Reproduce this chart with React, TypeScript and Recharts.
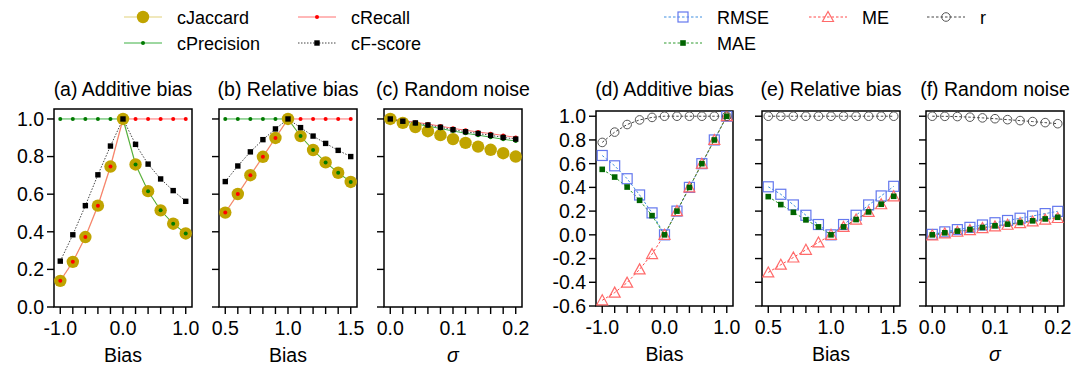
import React from "react";
import { LineChart, Line, XAxis, YAxis, ReferenceArea, Label } from "recharts";

const FONT = '"Liberation Sans", Arial, Helvetica, sans-serif';
const AXIS_FONT = 19.5;

// x values
const additiveBias = [-1.0, -0.8, -0.6, -0.4, -0.2, 0.0, 0.2, 0.4, 0.6, 0.8, 1.0];
const relativeBias = [0.5, 0.6, 0.7, 0.8, 0.9, 1.0, 1.1, 1.2, 1.3, 1.4, 1.5];
const sigmaValues = [0, 0.02, 0.04, 0.06, 0.08, 0.1, 0.12, 0.14, 0.16, 0.18, 0.2];

// tick labels
const additiveLabels = [-1.0, 0.0, 1.0];
const relativeLabels = [0.5, 1.0, 1.5];
const sigmaLabels = [0.0, 0.1, 0.2];
const leftYTicks = [0, 0.2, 0.4, 0.6, 0.8, 1.0];
const rightYTicks = [-0.6, -0.4, -0.2, 0, 0.2, 0.4, 0.6, 0.8, 1.0];

// (a) additive bias
const aJaccard = [0.139, 0.24, 0.372, 0.539, 0.747, 1.0, 0.758, 0.616, 0.514, 0.443, 0.391];
const aPrecision = [1, 1, 1, 1, 1, 1, 0.758, 0.616, 0.514, 0.443, 0.391];
const aRecall = [0.139, 0.24, 0.372, 0.539, 0.747, 1, 1, 1, 1, 1, 1];
const aFscore = [0.244, 0.384, 0.539, 0.703, 0.856, 1.0, 0.865, 0.76, 0.681, 0.619, 0.562];

// (b) relative bias
const bJaccard = [0.502, 0.601, 0.701, 0.799, 0.899, 1.0, 0.909, 0.835, 0.769, 0.714, 0.665];
const bPrecision = [1, 1, 1, 1, 1, 1, 0.909, 0.835, 0.769, 0.714, 0.665];
const bRecall = [0.502, 0.601, 0.701, 0.799, 0.899, 1, 1, 1, 1, 1, 1];
const bFscore = [0.667, 0.75, 0.825, 0.89, 0.947, 1.0, 0.954, 0.909, 0.87, 0.833, 0.8];

// (c) random noise
const cJaccard = [1.0, 0.979, 0.957, 0.935, 0.914, 0.893, 0.873, 0.853, 0.836, 0.818, 0.8];
const cPrecision = [1.0, 0.985, 0.974, 0.962, 0.949, 0.936, 0.924, 0.914, 0.903, 0.892, 0.883];
const cRecall = [1.0, 0.991, 0.983, 0.973, 0.962, 0.95, 0.94, 0.931, 0.922, 0.912, 0.902];
const cFscore = [1.0, 0.988, 0.979, 0.968, 0.956, 0.943, 0.932, 0.923, 0.913, 0.902, 0.893];

// (d) additive bias
const dRMSE = [0.669, 0.582, 0.473, 0.336, 0.185, 0, 0.2, 0.4, 0.6, 0.8, 1.0];
const dMAE = [0.552, 0.487, 0.403, 0.291, 0.162, 0, 0.2, 0.4, 0.6, 0.8, 1.0];
const dME = [-0.552, -0.487, -0.403, -0.291, -0.162, 0, 0.2, 0.4, 0.6, 0.8, 1.0];
const dR = [0.779, 0.866, 0.93, 0.969, 0.99, 1, 1, 1, 1, 1, 1];

// (e) relative bias
const eRMSE = [0.405, 0.342, 0.252, 0.165, 0.087, 0, 0.087, 0.165, 0.252, 0.328, 0.409];
const eMAE = [0.322, 0.255, 0.19, 0.126, 0.067, 0, 0.067, 0.129, 0.193, 0.258, 0.325];
const eME = [-0.317, -0.252, -0.191, -0.126, -0.064, 0, 0.067, 0.129, 0.193, 0.258, 0.325];
const eR = [1, 1, 1, 1, 1, 1, 1, 1, 1, 1, 1];

// (f) random noise
const fRMSE = [0.004, 0.025, 0.044, 0.063, 0.083, 0.102, 0.121, 0.14, 0.159, 0.179, 0.198];
const fMAE = [0.0, 0.017, 0.031, 0.045, 0.062, 0.076, 0.09, 0.104, 0.118, 0.134, 0.148];
const fME = [-0.004, 0.012, 0.026, 0.04, 0.057, 0.071, 0.085, 0.099, 0.113, 0.128, 0.142];
const fR = [1.0, 0.999, 0.997, 0.992, 0.986, 0.979, 0.971, 0.963, 0.955, 0.946, 0.937];

type Marker = (cx: number, cy: number, key?: string) => React.ReactElement;

const jaccardMarker: Marker = (cx, cy, key) => <circle key={key} cx={cx} cy={cy} r={6.2} fill="#c0a400" />;
const precisionMarker: Marker = (cx, cy, key) => <circle key={key} cx={cx} cy={cy} r={2} fill="#007a00" />;
const recallMarker: Marker = (cx, cy, key) => <circle key={key} cx={cx} cy={cy} r={2} fill="#ff0000" />;
const fscoreMarker: Marker = (cx, cy, key) => (
  <rect key={key} x={cx - 2.7} y={cy - 2.7} width={5.4} height={5.4} fill="#000" />
);
const rmseMarker: Marker = (cx, cy, key) => (
  <rect key={key} x={cx - 5} y={cy - 5} width={10} height={10} fill="none" stroke="#6478ee" strokeWidth={1.2} />
);
const maeMarker: Marker = (cx, cy, key) => (
  <rect key={key} x={cx - 2.8} y={cy - 2.8} width={5.6} height={5.6} fill="#006400" />
);
const meMarker: Marker = (cx, cy, key) => (
  <polygon
    key={key}
    points={`${cx},${cy - 5.5} ${cx - 5.5},${cy + 4.5} ${cx + 5.5},${cy + 4.5}`}
    fill="none"
    stroke="#ff6a6a"
    strokeWidth={1.2}
  />
);
const rMarker: Marker = (cx, cy, key) => (
  <circle key={key} cx={cx} cy={cy} r={4.3} fill="none" stroke="#555" strokeWidth={1} />
);

type Style = { name: string; stroke: string; width: number; dash?: string; marker: Marker };

const JACCARD: Style = { name: "cJaccard", stroke: "#ebe0a6", width: 1.5, marker: jaccardMarker };
const PRECISION: Style = { name: "cPrecision", stroke: "#3cb043", width: 1, marker: precisionMarker };
const RECALL: Style = { name: "cRecall", stroke: "#ff7070", width: 1, marker: recallMarker };
const FSCORE: Style = { name: "cF-score", stroke: "#444", width: 1, dash: "1.5 1.5", marker: fscoreMarker };
const RMSE: Style = { name: "RMSE", stroke: "#3f8fe0", width: 1, dash: "2.5 2", marker: rmseMarker };
const MAE: Style = { name: "MAE", stroke: "#2e9a2e", width: 1, dash: "2.5 2", marker: maeMarker };
const ME: Style = { name: "ME", stroke: "#ff4a4a", width: 1, dash: "2.5 2", marker: meMarker };
const RCOR: Style = { name: "r", stroke: "#444", width: 1, dash: "2.5 2", marker: rMarker };

type Box = { left: number; top: number; w: number; h: number };

type PanelProps = {
  title: string;
  box: Box;
  xs: number[];
  series: { style: Style; values: number[] }[];
  xDomain: [number, number];
  xMajor: number[];
  yDomain: [number, number];
  yTicks: number[];
  showY: boolean;
  xLabel: string;
  italic?: boolean;
};

function Panel(p: PanelProps) {
  const yw = 60;
  const pad = 10;
  const xh = 60;
  const rows = p.xs.map((x, i) => {
    const row: Record<string, number> = { x };
    p.series.forEach((s) => {
      row[s.style.name] = s.values[i];
    });
    return row;
  });
  const fmtX = (v: number) => (p.xMajor.some((m) => Math.abs(m - v) < 1e-9) ? v.toFixed(1) : "");
  return (
    <>
      <div
        style={{
          position: "absolute",
          left: p.box.left - 20,
          width: p.box.w + 40,
          top: 78,
          textAlign: "center",
          fontSize: AXIS_FONT,
          whiteSpace: "nowrap",
          lineHeight: "22px",
        }}
      >
        {p.title}
      </div>
      <div style={{ position: "absolute", left: p.box.left - yw, top: p.box.top - pad }}>
        <LineChart
          width={yw + p.box.w + pad}
          height={pad + p.box.h + xh}
          data={rows}
          margin={{ top: pad, right: pad, left: 0, bottom: 0 }}
        >
          <XAxis
            type="number"
            dataKey="x"
            domain={p.xDomain}
            ticks={p.xs}
            interval={0}
            allowDataOverflow
            tickFormatter={fmtX}
            tickSize={7}
            tickMargin={7}
            axisLine={false}
            tickLine={{ stroke: "#000", strokeWidth: 1.4 }}
            tick={{ fill: "#000", fontSize: AXIS_FONT }}
            height={xh}
          >
            <Label
              value={p.xLabel}
              position="insideBottom"
              offset={5}
              fill="#000"
              fontSize={AXIS_FONT}
              fontStyle={p.italic ? "italic" : "normal"}
            />
          </XAxis>
          <YAxis
            type="number"
            domain={p.yDomain}
            ticks={p.yTicks}
            interval={0}
            allowDataOverflow
            width={yw}
            tickFormatter={(v: number) => (p.showY ? v.toFixed(1) : "")}
            tickSize={7}
            tickMargin={3}
            axisLine={false}
            tickLine={{ stroke: "#000", strokeWidth: 1.4 }}
            tick={{ fill: "#000", fontSize: AXIS_FONT }}
          />
          <ReferenceArea
            x1={p.xDomain[0]}
            x2={p.xDomain[1]}
            y1={p.yDomain[0]}
            y2={p.yDomain[1]}
            fill="none"
            fillOpacity={0}
            stroke="#000"
            strokeWidth={1.5}
            ifOverflow="visible"
          />
          {p.series.map((s) => (
            <Line
              key={s.style.name}
              type="linear"
              dataKey={s.style.name}
              stroke={s.style.stroke}
              strokeWidth={s.style.width}
              strokeDasharray={s.style.dash}
              isAnimationActive={false}
              activeDot={false}
              dot={(d: any) =>
                d.cx == null || d.cy == null ? (
                  <g key={`${s.style.name}-${d.index}`} />
                ) : (
                  s.style.marker(d.cx, d.cy, `${s.style.name}-${d.index}`)
                )
              }
            />
          ))}
        </LineChart>
      </div>
    </>
  );
}

function LegendItem({ style, x, y }: { style: Style; x: number; y: number }) {
  return (
    <g>
      <line
        x1={x}
        x2={x + 38}
        y1={y}
        y2={y}
        stroke={style.stroke}
        strokeWidth={style.width}
        strokeDasharray={style.dash}
      />
      {style.marker(x + 19, y)}
      <text x={x + 53} y={y + 7} fontSize={18} fill="#000">
        {style.name}
      </text>
    </g>
  );
}

export default function App() {
  const r1 = 17;
  const r2 = 43;
  const leftSeries = (j: number[], pr: number[], rc: number[], f: number[]) => [
    { style: JACCARD, values: j },
    { style: PRECISION, values: pr },
    { style: RECALL, values: rc },
    { style: FSCORE, values: f },
  ];
  const rightSeries = (rm: number[], ma: number[], me: number[], r: number[]) => [
    { style: RMSE, values: rm },
    { style: ME, values: me },
    { style: MAE, values: ma },
    { style: RCOR, values: r },
  ];
  const leftY: [number, number] = [0, 1.053];
  const rightY: [number, number] = [-0.6, 1.044];
  return (
    <div
      style={{
        position: "absolute",
        left: 0,
        top: 0,
        width: 1072,
        height: 371,
        background: "#fff",
        fontFamily: FONT,
        color: "#000",
        overflow: "hidden",
      }}
    >
      <svg width={1072} height={60} style={{ position: "absolute", left: 0, top: 0 }}>
        <LegendItem style={JACCARD} x={124} y={r1} />
        <LegendItem style={PRECISION} x={124} y={r2} />
        <LegendItem style={RECALL} x={298} y={r1} />
        <LegendItem style={FSCORE} x={298} y={r2} />
        <LegendItem style={RMSE} x={664} y={r1} />
        <LegendItem style={MAE} x={664} y={r2} />
        <LegendItem style={ME} x={809} y={r1} />
        <LegendItem style={RCOR} x={927} y={r1} />
      </svg>

      <Panel
        title="(a) Additive bias"
        box={{ left: 54, top: 109, w: 138, h: 198 }}
        xs={additiveBias}
        series={leftSeries(aJaccard, aPrecision, aRecall, aFscore)}
        xDomain={[-1.1, 1.1]}
        xMajor={additiveLabels}
        yDomain={leftY}
        yTicks={leftYTicks}
        showY
        xLabel="Bias"
      />
      <Panel
        title="(b) Relative bias"
        box={{ left: 219, top: 109, w: 138, h: 198 }}
        xs={relativeBias}
        series={leftSeries(bJaccard, bPrecision, bRecall, bFscore)}
        xDomain={[0.45, 1.55]}
        xMajor={relativeLabels}
        yDomain={leftY}
        yTicks={leftYTicks}
        showY={false}
        xLabel="Bias"
      />
      <Panel
        title="(c) Random noise"
        box={{ left: 384, top: 109, w: 138, h: 198 }}
        xs={sigmaValues}
        series={leftSeries(cJaccard, cPrecision, cRecall, cFscore)}
        xDomain={[-0.01, 0.21]}
        xMajor={sigmaLabels}
        yDomain={leftY}
        yTicks={leftYTicks}
        showY={false}
        xLabel="σ"
        italic
      />
      <Panel
        title="(d) Additive bias"
        box={{ left: 596, top: 111, w: 137, h: 195 }}
        xs={additiveBias}
        series={rightSeries(dRMSE, dMAE, dME, dR)}
        xDomain={[-1.1, 1.1]}
        xMajor={additiveLabels}
        yDomain={rightY}
        yTicks={rightYTicks}
        showY
        xLabel="Bias"
      />
      <Panel
        title="(e) Relative bias"
        box={{ left: 762, top: 111, w: 138, h: 195 }}
        xs={relativeBias}
        series={rightSeries(eRMSE, eMAE, eME, eR)}
        xDomain={[0.45, 1.55]}
        xMajor={relativeLabels}
        yDomain={rightY}
        yTicks={rightYTicks}
        showY={false}
        xLabel="Bias"
      />
      <Panel
        title="(f) Random noise"
        box={{ left: 926, top: 111, w: 138, h: 195 }}
        xs={sigmaValues}
        series={rightSeries(fRMSE, fMAE, fME, fR)}
        xDomain={[-0.01, 0.21]}
        xMajor={sigmaLabels}
        yDomain={rightY}
        yTicks={rightYTicks}
        showY={false}
        xLabel="σ"
        italic
      />
    </div>
  );
}
